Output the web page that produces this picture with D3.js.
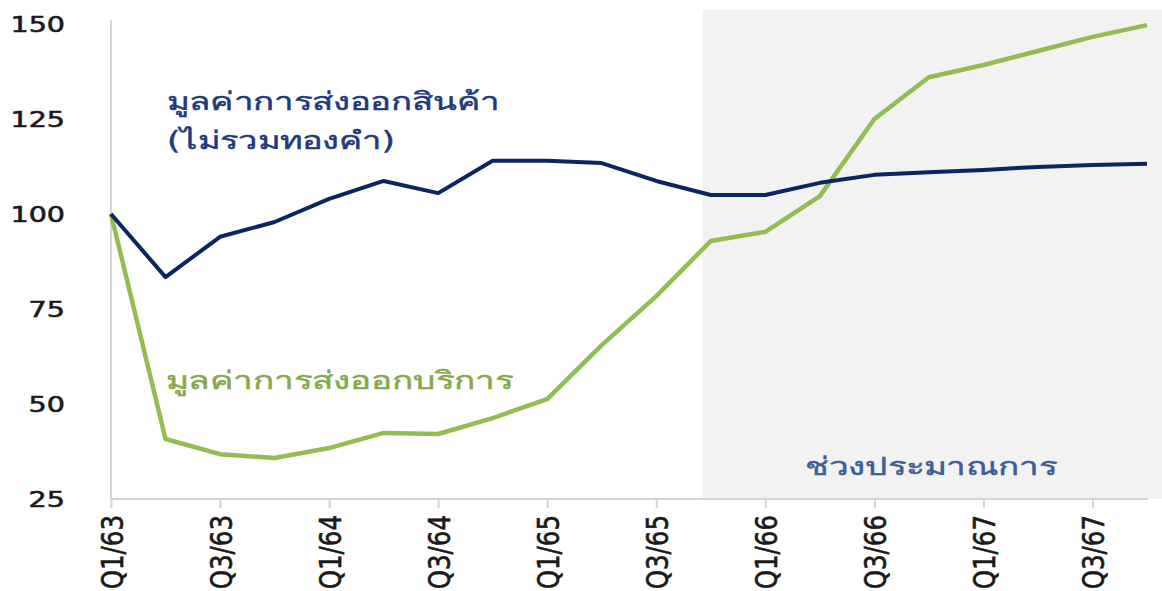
<!DOCTYPE html>
<html>
<head>
<meta charset="utf-8">
<script src="https://cdn.jsdelivr.net/npm/d3@7"></script>
<style>
  body { margin: 0; background: #fff; }
  text { font-family: "DejaVu Sans", Verdana, sans-serif; }
</style>
</head>
<body>
<div id="main"></div>
<script>
// quarterly index (Q1/63 = 100)
var quarters = ["Q1/63", "Q2/63", "Q3/63", "Q4/63", "Q1/64", "Q2/64", "Q3/64", "Q4/64",
    "Q1/65", "Q2/65", "Q3/65", "Q4/65", "Q1/66", "Q2/66", "Q3/66", "Q4/66",
    "Q1/67", "Q2/67", "Q3/67", "Q4/67"];
var goodsExports = [100, 83.4, 94, 97.9, 104, 108.7, 105.5, 114, 114, 113.4,
    108.7, 105, 105, 108.2, 110.3, 111, 111.6, 112.4, 112.9, 113.2];
var serviceExports = [100, 40.8, 36.8, 35.8, 38.4, 42.4, 42.1, 46.3, 51.3, 65.5,
    78.4, 92.9, 95.3, 104.7, 125, 136, 139.2, 142.9, 146.6, 149.7];
var yTicks = [25, 50, 75, 100, 125, 150];
var xTickLabels = ["Q1/63", "Q3/63", "Q1/64", "Q3/64", "Q1/65", "Q3/65", "Q1/66", "Q3/66", "Q1/67", "Q3/67"];
var forecastFrom = 10.85; // quarter index where the forecast shading begins

var ctx = {
    w: 1162,
    h: 591,
    margin: { top: 24, right: 15, bottom: 92, left: 111 },
    sx: 1.3  // text in the source is stretched horizontally
};

var svg = d3.select("#main").append("svg")
    .attr("width", ctx.w)
    .attr("height", ctx.h);

var width = ctx.w - ctx.margin.left - ctx.margin.right;
var height = ctx.h - ctx.margin.top - ctx.margin.bottom;

var x = d3.scalePoint().domain(quarters).range([0, width]);
var y = d3.scaleLinear().domain([25, 150]).range([height, 0]);
var step = x.step();

var g = svg.append("g")
    .attr("transform", "translate(" + ctx.margin.left + "," + ctx.margin.top + ")");

// forecast shading
var shadeX = forecastFrom * step;
g.append("rect")
    .attr("x", shadeX)
    .attr("y", -14)
    .attr("width", ctx.w - ctx.margin.left - shadeX)
    .attr("height", height + 14)
    .attr("fill", "#f2f2f2");

// y axis (line + labels only)
g.append("line")
    .attr("x1", 0).attr("x2", 0)
    .attr("y1", -4).attr("y2", height)
    .attr("stroke", "#d4d4d4")
    .attr("stroke-width", 2);

g.selectAll(".ylab")
    .data(yTicks)
    .enter()
    .append("text")
    .attr("class", "ylab")
    .attr("transform", function (d) { return "translate(-46," + y(d) + ") scale(" + ctx.sx + ",1)"; })
    .attr("text-anchor", "end")
    .attr("dy", "0.36em")
    .attr("font-size", 22)
    .attr("fill", "#1a1a1a")
    .attr("stroke", "#1a1a1a")
    .attr("stroke-width", 0.6)
    .text(function (d) { return d; });

// x axis
var xAxis = g.append("g")
    .attr("transform", "translate(0," + height + ")")
    .call(d3.axisBottom(x).tickValues(xTickLabels).tickSize(9).tickSizeOuter(0));
xAxis.select(".domain")
    .attr("stroke", "#d4d4d4")
    .attr("stroke-width", 2)
    .attr("d", "M0,0H" + (width + 1));
xAxis.selectAll(".tick line")
    .attr("stroke", "#d4d4d4")
    .attr("stroke-width", 2);
xAxis.selectAll(".tick text")
    .attr("font-family", "DejaVu Sans, Verdana, sans-serif")
    .attr("font-size", 24.5)
    .attr("fill", "#1a1a1a")
    .attr("stroke", "#1a1a1a")
    .attr("stroke-width", 0.5)
    .attr("x", 0)
    .attr("y", 0)
    .attr("dy", "0.36em")
    .attr("text-anchor", "end")
    .attr("transform", "translate(0,16) scale(1.25,1) rotate(-90)");

// lines
var line = function (vals) {
    return d3.line()
        .x(function (d, i) { return x(quarters[i]); })
        .y(function (d) { return y(d); })(vals);
};

g.append("path")
    .attr("d", line(serviceExports))
    .attr("fill", "none")
    .attr("stroke", "#92bd52")
    .attr("stroke-width", 4.5)
    .attr("stroke-linejoin", "round");

g.append("path")
    .attr("d", line(goodsExports))
    .attr("fill", "none")
    .attr("stroke", "#0b2560")
    .attr("stroke-width", 4)
    .attr("stroke-linejoin", "round");

// labels (absolute page coords)
var labels = [
    { t: "มูลค่าการส่งออกสินค้า", x: 167, y: 110, w: 333, c: "#1e3a7b" },
    { t: "(ไม่รวมทองคำ)", x: 167, y: 149, w: 228, c: "#1e3a7b" },
    { t: "มูลค่าการส่งออกบริการ", x: 166, y: 389, w: 347, c: "#86a84a" },
    { t: "ช่วงประมาณการ", x: 805, y: 475, w: 252, c: "#3c5e96" }
];
svg.selectAll(".lbl")
    .data(labels)
    .enter()
    .append("text")
    .attr("class", "lbl")
    .attr("x", function (d) { return d.x; })
    .attr("y", function (d) { return d.y; })
    .attr("font-size", 25)
    .attr("textLength", function (d) { return d.w; })
    .attr("lengthAdjust", "spacingAndGlyphs")
    .attr("fill", function (d) { return d.c; })
    .attr("stroke", function (d) { return d.c; })
    .attr("stroke-width", 0.45)
    .text(function (d) { return d.t; });
</script>
</body>
</html>
